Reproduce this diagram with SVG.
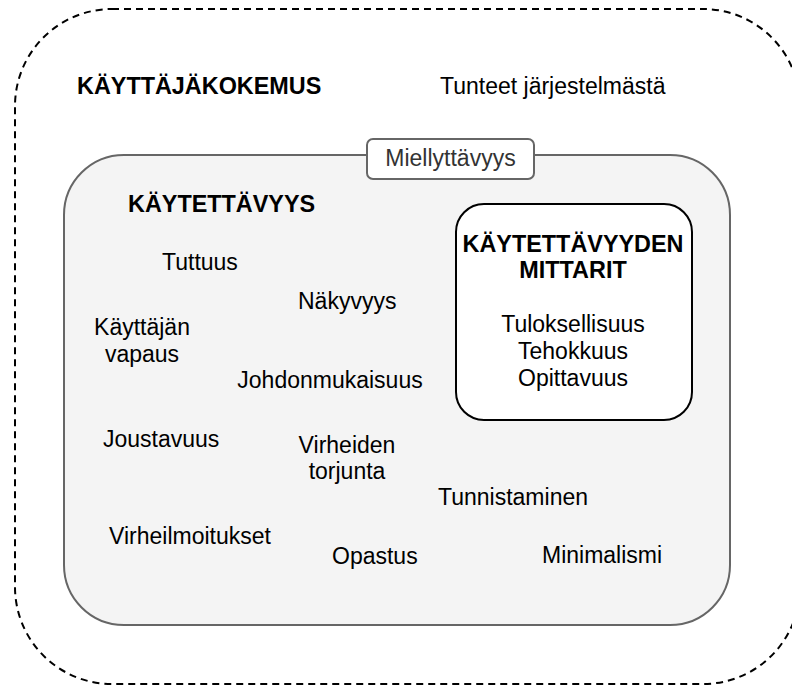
<svg xmlns="http://www.w3.org/2000/svg" width="792" height="686" viewBox="0 0 792 686">
  <style>
    text { font-family: "Liberation Sans", Arial, sans-serif; font-size: 23px; fill: #000; }
    .b { font-weight: bold; font-size: 23.4px; }
    .c { text-anchor: middle; }
    .label { fill: #333; }
  </style>
  <rect width="792" height="686" fill="#fff"/>

  <!-- User experience: outer dashed boundary -->
  <g id="kayttajakokemus">
    <rect x="15" y="9" width="785" height="675" rx="97" ry="97" fill="none" stroke="#000" stroke-width="2" stroke-dasharray="7 5"/>
    <text class="b" x="77" y="94">KÄYTTÄJÄKOKEMUS</text>
    <text x="440" y="94">Tunteet järjestelmästä</text>
  </g>

  <!-- Usability area -->
  <g id="kaytettavyys">
    <rect x="64" y="155" width="666" height="470" rx="60" ry="60" fill="#f4f4f4" stroke="#666" stroke-width="2"/>
    <text class="b" x="128" y="212">KÄYTETTÄVYYS</text>
    <text x="162" y="270">Tuttuus</text>
    <text x="298" y="309">Näkyvyys</text>
    <text class="c" x="142" y="335">Käyttäjän</text>
    <text class="c" x="142" y="362">vapaus</text>
    <text class="c" x="330" y="388">Johdonmukaisuus</text>
    <text x="103" y="447">Joustavuus</text>
    <text class="c" x="347" y="453">Virheiden</text>
    <text class="c" x="347" y="479">torjunta</text>
    <text x="109" y="544">Virheilmoitukset</text>
    <text x="332" y="564">Opastus</text>
    <text x="438" y="505">Tunnistaminen</text>
    <text x="542" y="563">Minimalismi</text>
  </g>

  <!-- Pleasantness label on the usability border -->
  <g id="miellyttavyys">
    <rect x="367" y="139" width="167" height="40" rx="6" ry="6" fill="#fff" stroke="#666" stroke-width="2"/>
    <text class="c label" x="450.5" y="166">Miellyttävyys</text>
  </g>

  <!-- Usability metrics -->
  <g id="mittarit">
    <rect x="456" y="204" width="236" height="216" rx="28" ry="28" fill="#fff" stroke="#000" stroke-width="2"/>
    <text class="b c" x="573" y="252">KÄYTETTÄVYYDEN</text>
    <text class="b c" x="573" y="278">MITTARIT</text>
    <text class="c" x="573" y="332">Tuloksellisuus</text>
    <text class="c" x="573" y="359">Tehokkuus</text>
    <text class="c" x="573" y="386">Opittavuus</text>
  </g>

  <g id="connectors"></g>
</svg>
